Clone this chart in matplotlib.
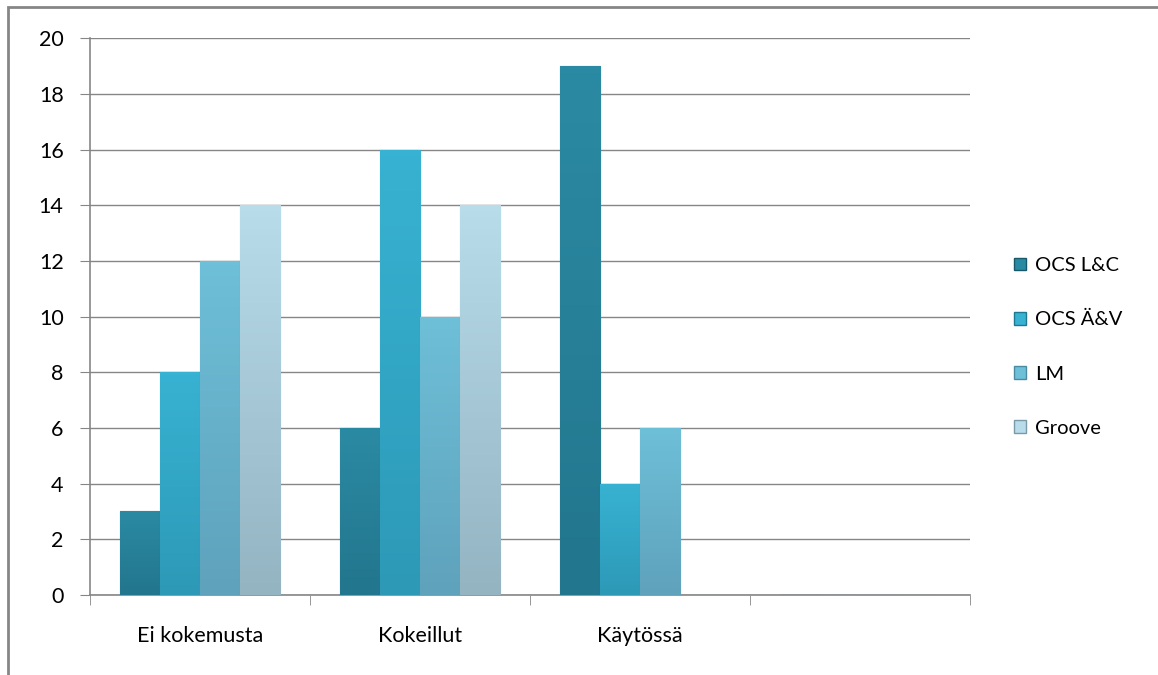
import matplotlib.pyplot as plt
import numpy as np
from matplotlib.colors import LinearSegmentedColormap
from matplotlib.patches import Rectangle

plt.rcParams['font.family'] = ['Lato', 'DejaVu Sans']

categories = ["Ei kokemusta", "Kokeillut", "Käytössä", ""]
series = ["OCS L&C", "OCS Ä&V", "LM", "Groove"]
ocs_lc = [3, 6, 19, 0]
ocs_av = [8, 16, 4, 0]
lm = [12, 10, 6, 0]
groove = [14, 14, 0, 0]
values = [ocs_lc, ocs_av, lm, groove]

# top / bottom shades for the gradient fill
tops = ["#2b8aa3", "#38b2d2", "#6ebfd8", "#b8dcea"]
bottoms = ["#22768d", "#2d99b7", "#5fa2bc", "#94b4c2"]
edges = ["#17586a", "#1f7890", "#4a8aa3", "#7b9aa8"]

fig = plt.figure(figsize=(11.58, 6.75), dpi=100)
ax = fig.add_axes([0.0777, 0.1185, 0.76, 0.825])

x = np.arange(len(categories))
width = 0.182
offsets = (np.arange(4) - 1.5) * width

handles = []
for i, (vals, name) in enumerate(zip(values, series)):
    bars = ax.bar(x + offsets[i], vals, width, color=bottoms[i],
                  edgecolor=edges[i], linewidth=0.8, label=name, zorder=3)
    cmap = LinearSegmentedColormap.from_list("g%d" % i, [bottoms[i], tops[i]])
    for b in bars:
        h = b.get_height()
        if h <= 0:
            continue
        im = ax.imshow(np.linspace(0, 1, 64).reshape(-1, 1), cmap=cmap,
                       origin="lower", aspect="auto", zorder=3,
                       extent=(b.get_x(), b.get_x() + b.get_width(), 0, h))
        im.set_clip_path(b)
    handles.append(Rectangle((0, 0), 1, 1, facecolor=tops[i], edgecolor=edges[i]))

ax.set_xlim(-0.5, 3.5)
ax.set_ylim(0, 20)
ax.set_yticks(np.arange(0, 21, 2))
ax.set_xticks(x)
ax.set_xticklabels(categories)
ax.set_xticks(np.arange(-0.5, 4.0, 1.0), minor=True)
ax.tick_params(axis="x", which="major", length=0, pad=22, labelsize=15.5)
ax.tick_params(axis="x", which="minor", length=7, color="#868686", direction="out")
ax.tick_params(axis="y", length=7, color="#868686", labelsize=15.5, pad=12)
ax.grid(axis="y", color="#868686", linewidth=1, zorder=0)
for s in ["top", "right"]:
    ax.spines[s].set_visible(False)
for s in ["left", "bottom"]:
    ax.spines[s].set_color("#868686")
    ax.spines[s].set_linewidth(1.2)

fig.legend(handles, series, loc="center left", bbox_to_anchor=(0.86, 0.486),
           frameon=False, fontsize=14.5, handlelength=0.6, handleheight=0.6,
           handletextpad=0.45, labelspacing=1.85)

fig.patches.append(Rectangle((0.007, -0.1), 1.1, 1.09, transform=fig.transFigure,
                             fill=False, edgecolor="#868686", linewidth=2))

fig.savefig("out.png", dpi=100)
